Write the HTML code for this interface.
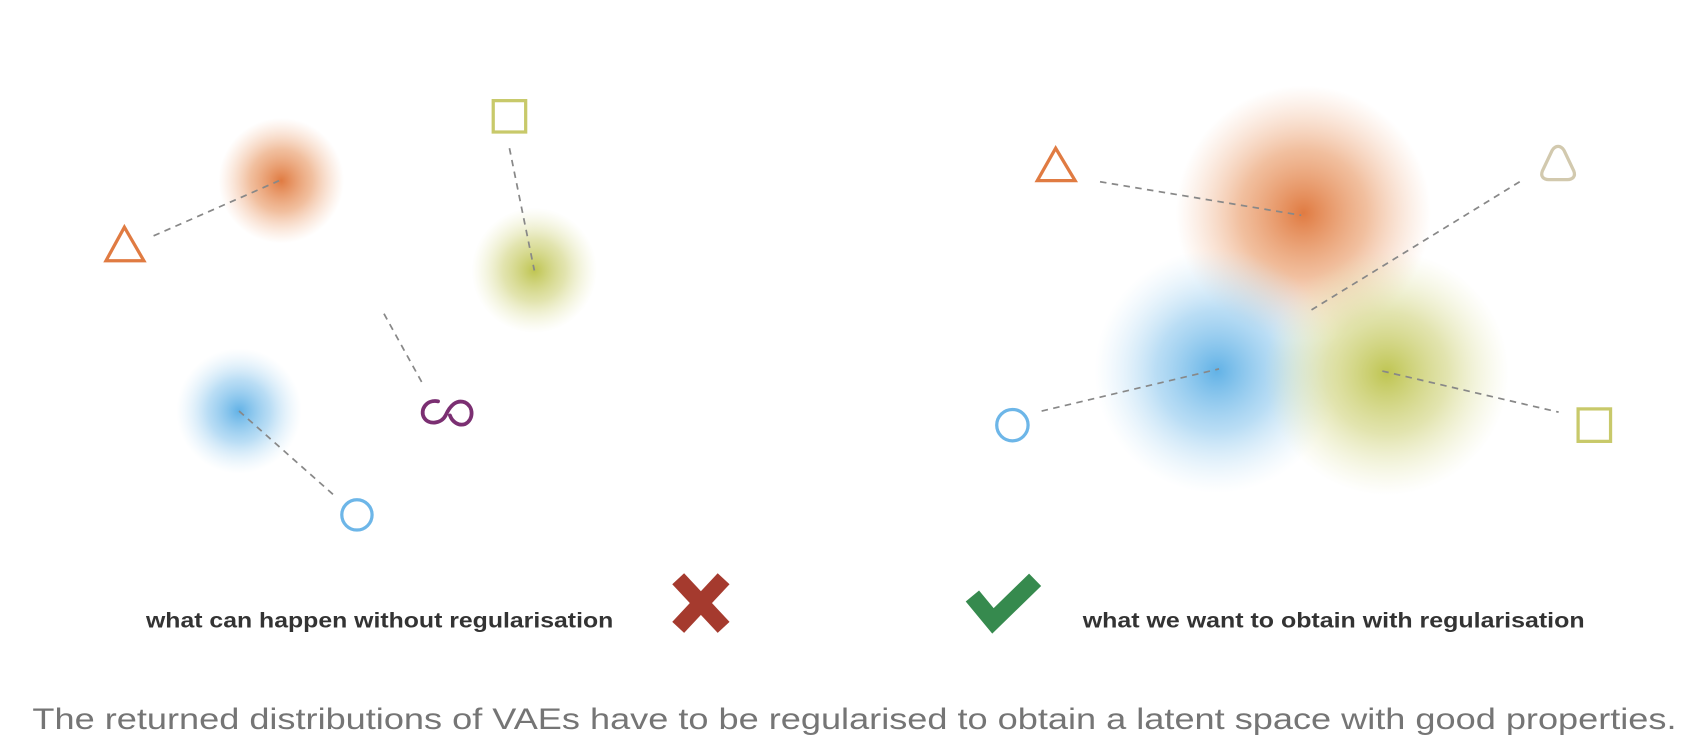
<!DOCTYPE html>
<html><head><meta charset="utf-8"><style>
html,body{margin:0;padding:0;background:#fff;width:1696px;height:754px;overflow:hidden}
svg{display:block}
</style></head><body>
<svg width="1696" height="754" viewBox="0 0 1568 697" xmlns="http://www.w3.org/2000/svg">
<defs>
<radialGradient id="go"><stop offset="0" stop-color="#e07b42" stop-opacity="1"/><stop offset="0.5" stop-color="#e8955f" stop-opacity="0.6"/><stop offset="1" stop-color="#f2b48e" stop-opacity="0"/></radialGradient>
<radialGradient id="gg"><stop offset="0" stop-color="#bfc552" stop-opacity="1"/><stop offset="0.5" stop-color="#cfd27a" stop-opacity="0.6"/><stop offset="1" stop-color="#e3e5ad" stop-opacity="0"/></radialGradient>
<radialGradient id="gb"><stop offset="0" stop-color="#62b2e6" stop-opacity="1"/><stop offset="0.5" stop-color="#8cc7ee" stop-opacity="0.6"/><stop offset="1" stop-color="#c4e2f6" stop-opacity="0"/></radialGradient>
</defs>
<g fill="none" stroke-width="3">
<circle cx="260" cy="167" r="58" fill="url(#go)" stroke="none"/>
<circle cx="494" cy="250" r="58" fill="url(#gg)" stroke="none"/>
<circle cx="221" cy="380" r="58" fill="url(#gb)" stroke="none"/>
<g stroke="#888" stroke-width="1.6" stroke-dasharray="6 5">
<line x1="142" y1="218" x2="258" y2="167"/>
<line x1="471" y1="137" x2="494" y2="250"/>
<line x1="221" y1="380" x2="309" y2="458"/>
<line x1="355" y1="290" x2="392" y2="357"/>
</g>
<polygon points="115,210 98,241 133,241" stroke="#e07b42"/>
<rect x="456" y="93" width="30" height="29" stroke="#c8c96a"/>
<circle cx="330" cy="476" r="14" stroke="#6db6e8"/>
<path d="M405,371 C394,369 388,379 392,386 C396,393 408,392 412,384 C416,375 422,369 430,372 C438,376 438,388 430,392 C424,394 418,390 416,384" stroke="#7b2f72" stroke-width="3.5" stroke-linecap="round"/>
</g>
<g fill="none" stroke-width="3">
<circle cx="1205" cy="197" r="118" fill="url(#go)" stroke="none"/>
<circle cx="1125" cy="343" r="113" fill="url(#gb)" stroke="none"/>
<circle cx="1282" cy="345" r="113" fill="url(#gg)" stroke="none"/>
<g stroke="#888" stroke-width="1.6" stroke-dasharray="6 5">
<line x1="1017" y1="168" x2="1203" y2="199"/>
<line x1="963" y1="380" x2="1127" y2="341"/>
<line x1="1278" y1="343" x2="1441" y2="381"/>
<line x1="1405" y1="168" x2="1210" y2="288"/>
</g>
<polygon points="976,137 959,167 994,167" stroke="#e07b42"/>
<circle cx="936" cy="393" r="14.5" stroke="#6db6e8"/>
<rect x="1459" y="378" width="30" height="30" stroke="#c8c96a"/>
<path d="M1435,139 C1438,134 1443,134 1446,139 L1455,158 C1457,163 1454,166 1449,166 L1432,166 C1427,166 1424,163 1426,158 Z" stroke="#d2c9ae"/>
</g>
<text x="135" y="580" font-family="Liberation Sans, sans-serif" font-weight="bold" font-size="20" fill="#333" textLength="432" lengthAdjust="spacingAndGlyphs">what can happen without regularisation</text>
<g stroke="#a53a2e" stroke-width="15">
<line x1="627" y1="535" x2="669" y2="580"/><line x1="669" y1="535" x2="627" y2="580"/>
</g>
<path d="M899,551 L918,574 L957,536" fill="none" stroke="#368a4e" stroke-width="16"/>
<text x="1001" y="580" font-family="Liberation Sans, sans-serif" font-weight="bold" font-size="20" fill="#333" textLength="464" lengthAdjust="spacingAndGlyphs">what we want to obtain with regularisation</text>
<text x="30" y="674" font-family="Liberation Sans, sans-serif" font-size="27" fill="#757575" textLength="1520" lengthAdjust="spacingAndGlyphs">The returned distributions of VAEs have to be regularised to obtain a latent space with good properties.</text>
</svg>
</body></html>
